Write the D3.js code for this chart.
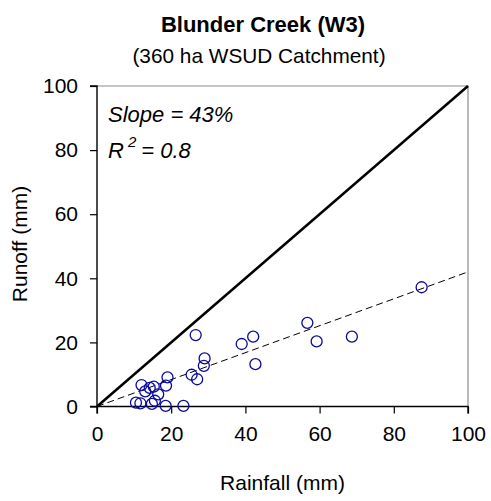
<!DOCTYPE html>
<html>
<head>
<meta charset="utf-8">
<script src="https://cdn.jsdelivr.net/npm/d3@7"></script>
<style>
  html, body { margin: 0; padding: 0; background: #fff; }
  text { font-family: "Liberation Sans", Arial, sans-serif; fill: #000; }
</style>
</head>
<body>
<svg id="chart" width="491" height="501"></svg>
<script>
const title = "Blunder Creek (W3)";
const subtitle = "(360 ha WSUD Catchment)";
const xLabel = "Rainfall (mm)";
const yLabel = "Runoff (mm)";
const xTicks = [0, 20, 40, 60, 80, 100];
const yTicks = [0, 20, 40, 60, 80, 100];

const rainfall = [10.5, 11.7, 12.0, 13.0, 14.2, 15.3, 16.5, 14.8, 15.6, 18.5, 23.3, 18.6, 19.0,
                  25.5, 27.0, 26.6, 29.0, 28.8, 39.0, 42.1, 42.7, 56.7, 59.2, 68.7, 87.5];
const runoff   = [1.2, 1.0, 6.7, 4.7, 5.8, 6.2, 3.8, 0.8, 1.8, 0.2, 0.2, 6.5, 9.1,
                  9.9, 8.5, 22.3, 15.0, 12.7, 19.5, 21.8, 13.2, 26.1, 20.3, 21.8, 37.2];

const oneToOne = [[0, 0], [100, 100]];
const fitLine = [[0, 0], [100, 42]];
const slopeText = "Slope = 43%";
const r2Value = "0.8";

const svg = d3.select("#chart");
const x = d3.scaleLinear().domain([0, 100]).range([97, 468]);
const y = d3.scaleLinear().domain([0, 100]).range([406.5, 86]);

// plot frame top/right
svg.append("path")
  .attr("d", `M${x(0)},${y(100)}H${x(100)}V${y(0)}`)
  .attr("fill", "none").attr("stroke", "#8c8c8c").attr("stroke-width", 1.2);

// axes
const xAxis = d3.axisBottom(x).tickValues(xTicks).tickSize(7).tickPadding(13);
const yAxis = d3.axisLeft(y).tickValues(yTicks).tickSize(7).tickPadding(12);

const gx = svg.append("g").attr("transform", `translate(0,${y(0)})`).call(xAxis);
const gy = svg.append("g").attr("transform", `translate(${x(0)},0)`).call(yAxis);
[gx, gy].forEach(g => {
  g.select(".domain").attr("stroke", "#000").attr("stroke-width", 1.4);
  g.selectAll(".tick line").attr("stroke", "#000").attr("stroke-width", 1.2);
  g.selectAll(".tick text").attr("font-family", "Liberation Sans, Arial, sans-serif")
    .attr("font-size", 21).attr("fill", "#000");
});
gx.select(".domain").attr("d", `M${x(0)},7V0H${x(100)}V7`);
gy.select(".domain").attr("d", `M-7,${y(100)}H0V${y(0)}H-7`);

// lines
const line = d3.line().x(d => x(d[0])).y(d => y(d[1]));
svg.append("path").datum(oneToOne).attr("d", line)
  .attr("fill", "none").attr("stroke", "#000").attr("stroke-width", 2.5);
svg.append("path").datum(fitLine).attr("d", line)
  .attr("fill", "none").attr("stroke", "#000").attr("stroke-width", 1)
  .attr("stroke-dasharray", "7,4");

// points
svg.append("g").selectAll("circle").data(rainfall.map((r, i) => [r, runoff[i]]))
  .join("circle")
  .attr("cx", d => x(d[0])).attr("cy", d => y(d[1])).attr("r", 5.5)
  .attr("fill", "none").attr("stroke", "#0a0aa0").attr("stroke-width", 1.3);

// titles
svg.append("text").attr("x", 263).attr("y", 32).attr("text-anchor", "middle")
  .attr("font-size", 22).attr("font-weight", "bold").text(title);
svg.append("text").attr("x", 259).attr("y", 62.5).attr("text-anchor", "middle")
  .attr("font-size", 20.8).text(subtitle);
svg.append("text").attr("x", 282.5).attr("y", 490).attr("text-anchor", "middle")
  .attr("font-size", 21).text(xLabel);
svg.append("text").attr("transform", "translate(27,244) rotate(-90)").attr("text-anchor", "middle")
  .attr("font-size", 21).text(yLabel);

// annotation
svg.append("text").attr("x", 108).attr("y", 121.7).attr("font-size", 22)
  .attr("font-style", "italic").text(slopeText);
const r2 = svg.append("text").attr("x", 108).attr("y", 158.3).attr("font-size", 22)
  .attr("font-style", "italic");
r2.append("tspan").text("R");
r2.append("tspan").attr("dx", 4).attr("dy", -11).attr("font-size", 15).text("2");
r2.append("tspan").attr("dx", 5).attr("dy", 11).text("= " + r2Value);
</script>
</body>
</html>
